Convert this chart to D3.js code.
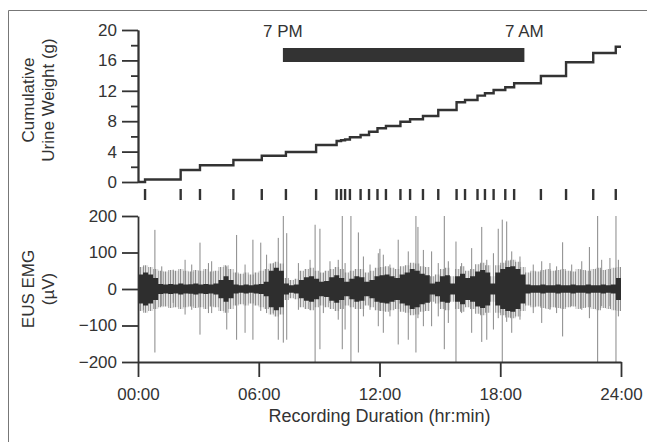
<!DOCTYPE html>
<html>
<head>
<meta charset="utf-8">
<script src="https://cdn.jsdelivr.net/npm/d3@7"></script>
<style>
  body { margin: 0; background: #fff; }
  svg text { font-family: "Liberation Sans", Arial, sans-serif; fill: #333; }
</style>
</head>
<body>
<svg width="647" height="442"></svg>
<script>
// void events (hours from start) and cumulative urine weight after each one (g)
const voidTimes = [0.35, 2.12, 3.08, 4.74, 6.15, 7.35, 8.85, 9.87, 10.09, 10.29, 10.53, 11.06, 11.48, 11.90,
  12.32, 13.04, 13.52, 14.16, 14.92, 15.83, 16.25, 16.87, 17.24, 17.67, 18.25, 18.69, 20.02, 21.27, 22.62, 23.74];
const cumWeight = [0.33, 1.58, 2.2, 2.9, 3.46, 3.95, 4.87, 5.4, 5.5, 5.6, 5.88, 6.18, 6.62, 7.07,
  7.37, 7.93, 8.25, 8.68, 9.47, 10.49, 10.79, 11.36, 11.67, 12.1, 12.46, 12.99, 13.95, 15.75, 16.97, 17.8];

// EMG envelope, one value per 15 min bin (uV)
const emgCore = [40, 45, 40, 30, 14, 12, 14, 12, 15, 12, 13, 15, 12, 14, 12, 15,
  25, 35, 25, 12, 10, 12, 10, 12, 14, 20, 50, 58, 50, 15, 10, 12,
  25, 32, 35, 28, 20, 22, 32, 38, 30, 20, 28, 35, 32, 20, 25, 35,
  38, 40, 35, 30, 40, 45, 55, 50, 42, 38, 15, 20, 35, 38, 15, 35,
  42, 30, 35, 48, 52, 45, 15, 45, 55, 60, 62, 55, 40, 12, 10, 10,
  12, 10, 10, 12, 10, 10, 12, 10, 10, 12, 10, 10, 12, 10, 12, 30];
const emgFuzz = [60, 65, 60, 55, 50, 48, 52, 50, 55, 50, 48, 52, 50, 55, 48, 50,
  60, 65, 55, 45, 42, 45, 40, 45, 50, 55, 70, 75, 70, 30, 25, 28,
  50, 55, 58, 50, 45, 50, 55, 60, 55, 45, 50, 55, 55, 45, 50, 58,
  60, 62, 58, 55, 62, 65, 72, 70, 62, 60, 35, 40, 55, 58, 35, 55,
  62, 50, 55, 68, 72, 65, 35, 65, 72, 78, 80, 75, 60, 45, 50, 48,
  52, 55, 50, 52, 55, 50, 48, 55, 52, 50, 55, 58, 52, 55, 58, 60];

// large isolated spikes
const spikeTimes = [0.84, 3.08, 4.9, 5.71, 6.1, 6.97, 7.22, 8.8, 9.04, 10.15, 10.58, 10.95, 12.02,
  12.93, 13.81, 13.91, 15.22, 15.8, 17.08, 17.9, 18.1, 18.32, 21.1, 22.43, 22.84, 23.75];
const spikeHi = [162, 127, 148, 135, 127, 140, 200, 176, 165, 200, 200, 155, 110,
  135, 200, 170, 200, 130, 170, 165, 190, 185, 128, 115, 200, 200];
const spikeLo = [-174, -125, -139, -139, -60, -139, -147, -200, -165, -165, -200, -174, -60,
  -152, -174, -80, -165, -200, -145, -80, -200, -90, -130, -80, -200, -200];

// smaller excursions sticking out of the noise band
const hairTimes = [0.27, 1.18, 1.75, 2.34, 2.67, 3.5, 3.66, 4.41, 5.32, 6.39, 6.72, 7.39, 7.97, 8.55,
  9.21, 9.54, 9.95, 10.29, 11.2, 11.53, 11.94, 12.19, 12.52, 13.43, 14.18, 14.59, 14.92, 15.42,
  16.08, 16.58, 17.33, 17.66, 18.57, 18.98, 19.64, 20.06, 20.47, 20.8, 21.55, 22.05, 23.04, 23.45, 23.87];
const hairHi = [62, 62, 53, 80, 67, 71, 76, 62, 67, 94, 71, 153, 71, 80,
  44, 76, 80, 71, 89, 67, 98, 94, 67, 103, 107, 103, 71, 76,
  71, 112, 80, 98, 103, 89, 67, 76, 71, 62, 67, 76, 80, 85, 80];
const hairLo = [-57, -47, -38, -70, -57, -66, -66, -111, -120, -66, -66, -139, -57, -57,
  -66, -38, -84, -111, -75, -57, -102, -120, -75, -139, -102, -102, -75, -93,
  -66, -120, -139, -111, -120, -84, -66, -93, -57, -66, -47, -57, -47, -47, -75];

const nightStart = 7.2, nightEnd = 19.2;
const hourTicks = [0, 6, 12, 18, 24];

const svg = d3.select("svg");
const ink = "#333";

const x = d3.scaleLinear().domain([0, 24]).range([138, 621]);
const yTop = d3.scaleLinear().domain([0, 20]).range([182, 30]);
const yBot = d3.scaleLinear().domain([-200, 200]).range([362, 216]);

// hatch used to give the noise band its hairy look
const pat = svg.append("defs").append("pattern")
    .attr("id", "hairs")
    .attr("patternUnits", "userSpaceOnUse")
    .attr("width", 5).attr("height", 10);
pat.append("rect").attr("width", 5).attr("height", 10).attr("fill", "#e2e2e2");
pat.append("rect").attr("x", 0).attr("width", 1).attr("height", 10).attr("fill", "#8f8f8f");
pat.append("rect").attr("x", 3).attr("width", 1).attr("height", 10).attr("fill", "#a8a8a8");

// frame
svg.append("path")
    .attr("d", "M8.5,442 V10.5 H647")
    .attr("fill", "none")
    .attr("stroke", "#777")
    .attr("stroke-width", 1);

function styleAxis(g) {
    g.selectAll("path, line").attr("stroke", ink).attr("stroke-width", 1.8);
    g.selectAll("text").attr("font-size", 17).attr("fill", ink)
        .attr("font-family", "Liberation Sans, Arial, sans-serif");
}

// ---- top panel ----
svg.append("g")
    .attr("transform", "translate(138,0)")
    .call(d3.axisLeft(yTop).tickValues(d3.range(2, 20, 4)).tickSize(7).tickFormat("").tickSizeOuter(0))
    .call(styleAxis);
svg.append("g")
    .attr("transform", "translate(138,0)")
    .call(d3.axisLeft(yTop).tickValues(d3.range(0, 21, 4)).tickSize(16).tickPadding(5).tickSizeOuter(0))
    .call(styleAxis);

const stepPts = [[0, 0]].concat(voidTimes.map((t, i) => [t, cumWeight[i]]), [[24, cumWeight[cumWeight.length - 1]]]);
svg.append("path")
    .datum(stepPts)
    .attr("fill", "none")
    .attr("stroke", ink)
    .attr("stroke-width", 2.4)
    .attr("d", d3.line().x(d => x(d[0])).y(d => yTop(d[1])).curve(d3.curveStepAfter));

svg.append("rect")
    .attr("x", x(nightStart))
    .attr("y", 48)
    .attr("width", x(nightEnd) - x(nightStart))
    .attr("height", 14)
    .attr("fill", ink);
svg.append("text").attr("x", x(nightStart)).attr("y", 37).attr("text-anchor", "middle")
    .attr("font-size", 17).text("7 PM");
svg.append("text").attr("x", x(nightEnd)).attr("y", 37).attr("text-anchor", "middle")
    .attr("font-size", 17).text("7 AM");

svg.selectAll(".void")
    .data(voidTimes)
    .enter().append("line")
    .attr("class", "void")
    .attr("x1", d => x(d)).attr("x2", d => x(d))
    .attr("y1", 189).attr("y2", 200)
    .attr("stroke", ink)
    .attr("stroke-width", 2.4);

const topTitle = svg.append("text")
    .attr("transform", "translate(34,100) rotate(-90)")
    .attr("text-anchor", "middle")
    .attr("font-size", 17);
topTitle.append("tspan").attr("x", 0).attr("dy", 0).text("Cumulative");
topTitle.append("tspan").attr("x", 0).attr("dy", 20).text("Urine Weight (g)");

// ---- bottom panel ----
const bins = emgCore.map((c, i) => ({ t: i * 0.25, c: c, f: emgFuzz[i] }));
bins.push({ t: 24, c: emgCore[emgCore.length - 1], f: emgFuzz[emgFuzz.length - 1] });

svg.append("path")
    .datum(bins)
    .attr("fill", "url(#hairs)")
    .attr("d", d3.area().x(d => x(d.t)).y0(d => yBot(-d.f)).y1(d => yBot(d.f)).curve(d3.curveStepAfter));

svg.selectAll(".hair")
    .data(hairTimes)
    .enter().append("line")
    .attr("class", "hair")
    .attr("x1", d => x(d)).attr("x2", d => x(d))
    .attr("y1", (d, i) => yBot(hairHi[i]))
    .attr("y2", (d, i) => yBot(hairLo[i]))
    .attr("stroke", "#8a8a8a")
    .attr("stroke-width", 1);

svg.selectAll(".spike")
    .data(spikeTimes)
    .enter().append("line")
    .attr("class", "spike")
    .attr("x1", d => x(d)).attr("x2", d => x(d))
    .attr("y1", (d, i) => yBot(spikeHi[i]))
    .attr("y2", (d, i) => yBot(spikeLo[i]))
    .attr("stroke", "#888")
    .attr("stroke-width", 1);

svg.append("path")
    .datum(bins)
    .attr("fill", "#2e2e2e")
    .attr("d", d3.area().x(d => x(d.t)).y0(d => yBot(-d.c)).y1(d => yBot(d.c)).curve(d3.curveStepAfter));

svg.append("g")
    .attr("transform", "translate(138,0)")
    .call(d3.axisLeft(yBot).tickValues(d3.range(-200, 201, 100)).tickSize(16).tickPadding(5).tickSizeOuter(0))
    .call(styleAxis);

svg.append("g")
    .attr("transform", "translate(0,362)")
    .call(d3.axisBottom(x).tickValues(hourTicks).tickSize(15).tickPadding(11).tickSizeOuter(0)
        .tickFormat(d => d3.format("02d")(d) + ":00"))
    .call(styleAxis);

const botTitle = svg.append("text")
    .attr("transform", "translate(34,289) rotate(-90)")
    .attr("text-anchor", "middle")
    .attr("font-size", 17);
botTitle.append("tspan").attr("x", 0).attr("dy", 0).text("EUS EMG");
botTitle.append("tspan").attr("x", 0).attr("dy", 20).text("(µV)");

svg.append("text")
    .attr("x", x(12))
    .attr("y", 422)
    .attr("text-anchor", "middle")
    .attr("font-size", 18)
    .text("Recording Duration (hr:min)");
</script>
</body>
</html>
